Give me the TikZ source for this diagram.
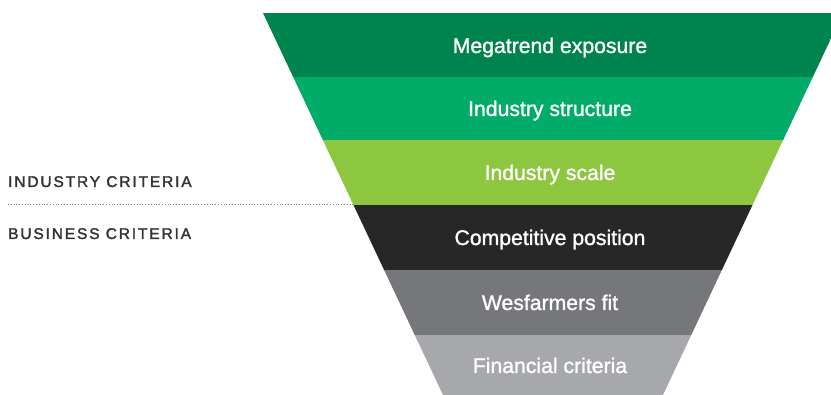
\documentclass[tikz,border=0pt]{standalone}
\usepackage{fontspec}
\setmainfont{Liberation Sans}
\newfontfamily\sidefont[LetterSpace=12,FakeBold=2]{Liberation Sans}
\newfontfamily\bandfont[FakeBold=1.2]{Liberation Sans}
\usepackage{tikz}
\usepackage{xcolor}

\definecolor{bandone}{HTML}{00844F}
\definecolor{bandtwo}{HTML}{00AC68}
\definecolor{bandthree}{HTML}{8DC63F}
\definecolor{bandfour}{HTML}{272727}
\definecolor{bandfive}{HTML}{76777A}
\definecolor{bandsix}{HTML}{A6A8AB}
\definecolor{labelgray}{HTML}{333333}

\begin{document}
\begin{tikzpicture}[
    x=1pt, y=-1pt,
    bandtext/.style={text=white, anchor=base, inner sep=0pt, font=\bandfont\fontsize{21.2}{24}\selectfont},
    sidetext/.style={text=labelgray, anchor=base west, inner sep=0pt, font=\sidefont\fontsize{15.5}{18}\selectfont}
]
\useasboundingbox (0,0) rectangle (831,395);
\begin{scope}
\clip (263,13) -- (843,13) -- (663,395) -- (443,395) -- cycle;
\fill [bandone]   (250, 13) rectangle (850, 77);
\fill [bandtwo]   (250, 77) rectangle (850,140);
\fill [bandthree] (250,140) rectangle (850,205);
\fill [bandfour]  (250,205) rectangle (850,270);
\fill [bandfive]  (250,270) rectangle (850,335);
\fill [bandsix]   (250,335) rectangle (850,395);
\end{scope}
\node [bandtext] at (550, 53) (megatrend) {Megatrend exposure};
\node [bandtext] at (550,116) (structure) {Industry structure};
\node [bandtext] at (550,180) (scale)     {Industry scale};
\node [bandtext] at (550,245) (position)  {Competitive position};
\node [bandtext] at (550,310) (fit)       {Wesfarmers fit};
\node [bandtext] at (550,373) (financial) {Financial criteria};
\node [sidetext] at (8,187) (indlabel) {INDUSTRY CRITERIA};
\node [sidetext] at (8,239) (buslabel) {BUSINESS CRITERIA};
\coordinate (divl) at (8,204.5);
\coordinate (divr) at (354,204.5);
\draw [gray, line width=0.9pt, dash pattern=on 0.9pt off 1.9pt] (divl)--(divr);
\end{tikzpicture}
\end{document}
